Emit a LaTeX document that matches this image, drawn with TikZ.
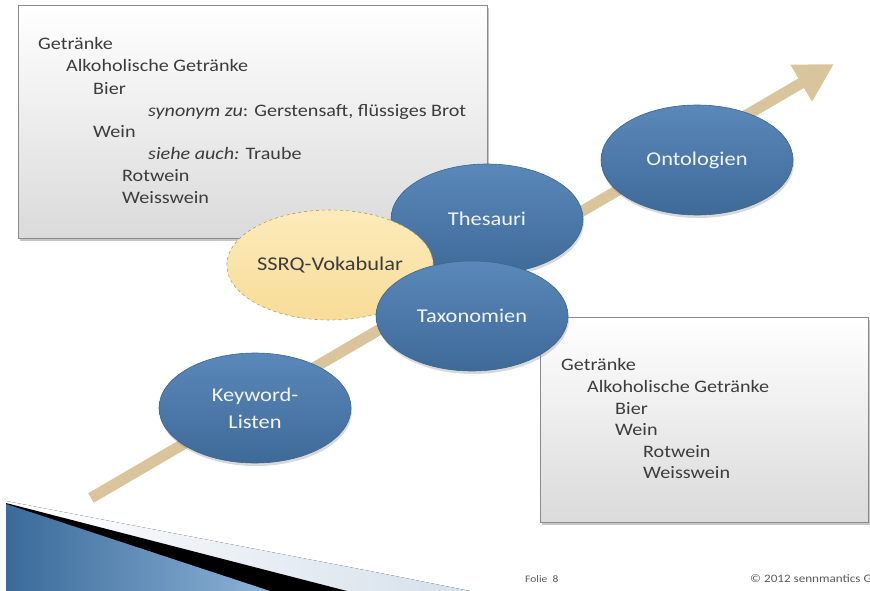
\documentclass[tikz,border=0pt]{standalone}
\usepackage{fontspec}
\setmainfont{Carlito}[FakeStretch=1.15]
\usetikzlibrary{shapes.geometric,shadows,arrows.meta}

\definecolor{txt}{HTML}{3C3C3C}
\definecolor{boxedge}{HTML}{8A8A8A}
\definecolor{boxbottom}{HTML}{DADADA}
\definecolor{tan}{HTML}{D9C49B}
\definecolor{bluetop}{HTML}{5A88BA}
\definecolor{bluebot}{HTML}{3E6A98}
\definecolor{blueedge}{HTML}{3A6591}
\definecolor{bluetext}{HTML}{F2F5F9}
\definecolor{ytop}{HTML}{FCEBBA}
\definecolor{ybot}{HTML}{F8DC98}
\definecolor{yedge}{HTML}{B59C5E}
\definecolor{footgray}{HTML}{5A5A5A}
\definecolor{decoblueA}{HTML}{3A6A9A}
\definecolor{decoblueB}{HTML}{8DB3D7}
\definecolor{decolight}{HTML}{D6E0EB}

\begin{document}
\begin{tikzpicture}[x=1pt,y=-1pt,
  infobox/.style={draw=boxedge, line width=0.9pt, top color=white,
    bottom color=boxbottom, inner sep=0, anchor=north west,
    drop shadow={shadow xshift=2pt, shadow yshift=-3pt, opacity=0.45}},
  entry/.style={anchor=base west, inner sep=0, text=txt,
    font=\fontsize{17.5}{20}\selectfont},
  blob/.style={ellipse, minimum width=192pt, minimum height=110pt,
    inner sep=0, align=center, font=\fontsize{19.5}{27}\selectfont},
  blueblob/.style={blob, draw=blueedge, line width=0.6pt,
    top color=bluetop, bottom color=bluebot, text=bluetext,
    drop shadow={shadow xshift=1pt, shadow yshift=-3pt, opacity=0.3}},
  yellowblob/.style={blob, draw=yedge, dashed, line width=0.6pt,
    top color=ytop, bottom color=ybot, text=txt},
  foot/.style={anchor=base west, inner sep=0, text=footgray}
]
\useasboundingbox (0,0) rectangle (870,591);
\clip (0,0) rectangle (870,591);

% decorative corner wedge
\fill[left color=white, right color=decolight] (6,501) -- (380,573) -- (470,591) -- (6,591) -- cycle;
\fill[black] (6,503) -- (347,591) -- (6,591) -- cycle;
\fill[left color=decoblueA, right color=decoblueB] (6,504) -- (270,591) -- (6,591) -- cycle;

% development arrow
\coordinate (arrowtail) at (91,498);
\coordinate (arrowtip) at (834,64);
\draw[tan, line width=11pt, -{Triangle[width=40pt,length=38pt]}] (arrowtail) -- (arrowtip);

% example boxes
\node[infobox, minimum width=469pt, minimum height=233pt] (tlbox) at (18,5) {};
\node[infobox, minimum width=328pt, minimum height=205pt] (rbbox) at (540,317) {};

% thesaurus example
\node[entry] (tl1) at (38,50)  {Getränke};
\node[entry] (tl2) at (66,72)  {Alkoholische Getränke};
\node[entry] (tl3) at (93,95)  {Bier};
\node[entry] (tl4) at (148,117) {\textit{synonym zu}: Gerstensaft, flüssiges Brot};
\node[entry] (tl5) at (93,138) {Wein};
\node[entry] (tl6) at (148,160) {\textit{siehe auch:} Traube};
\node[entry] (tl7) at (122,182) {Rotwein};
\node[entry] (tl8) at (122,203) {Weisswein};

% taxonomy example
\node[entry] (rb1) at (561,370) {Getränke};
\node[entry] (rb2) at (587,392) {Alkoholische Getränke};
\node[entry] (rb3) at (615,414) {Bier};
\node[entry] (rb4) at (615,435) {Wein};
\node[entry] (rb5) at (643,457) {Rotwein};
\node[entry] (rb6) at (643,478) {Weisswein};

% vocabulary types
\node[blueblob] (kw) at (255,408) {Keyword-\\Listen};
\node[blueblob] (onto) at (697,160) {Ontologien};
\node[blueblob] (thes) at (487,219) {Thesauri};
\node[yellowblob] (ssrq) at (330,265) {SSRQ-Vokabular};
\node[blueblob] (tax) at (472,316) {Taxonomien};

% footer
\node[foot, font=\fontsize{10}{12}\selectfont] (folie) at (525,582) {Folie\ \ 8};
\node[foot, font=\fontsize{11.4}{14}\selectfont] (copy) at (750,582) {© 2012 sennmantics GmbH};
\end{tikzpicture}
\end{document}
